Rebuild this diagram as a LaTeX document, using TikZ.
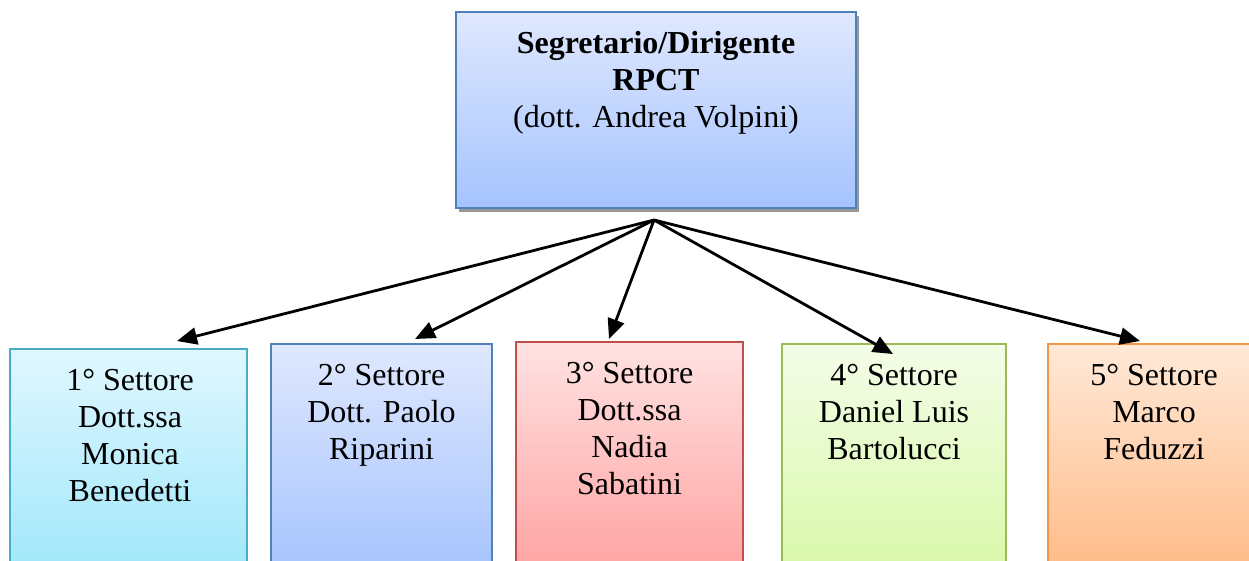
\documentclass[tikz,border=0pt]{standalone}
\usepackage{fontspec}
\setmainfont{Liberation Serif}
\usetikzlibrary{arrows.meta,shadows}
\definecolor{bBlue}{HTML}{4F81BD}
\definecolor{bTeal}{HTML}{4BACC6}
\definecolor{bRed}{HTML}{C0504D}
\definecolor{bGreen}{HTML}{9BBB59}
\definecolor{bOrange}{HTML}{F79646}
\definecolor{fBlueT}{HTML}{DFE8FE}
\definecolor{fBlueB}{HTML}{A5C3FE}
\definecolor{fTealT}{HTML}{E0F7FF}
\definecolor{fTealB}{HTML}{9FE7FA}
\definecolor{fRedT}{HTML}{FFE2E2}
\definecolor{fRedB}{HTML}{FFA2A2}
\definecolor{fGreenT}{HTML}{F4FDE8}
\definecolor{fGreenB}{HTML}{D8F8A8}
\definecolor{fOrangeT}{HTML}{FFE9D8}
\definecolor{fOrangeB}{HTML}{FFBA86}
\begin{document}
\begin{tikzpicture}[x=1pt,y=-1pt,
  box/.style={rectangle, inner sep=0pt, outer sep=0pt, line width=2pt},
  lbl/.style={anchor=north, inner sep=0pt, align=center, font=\fontsize{32}{37}\selectfont},
  arr/.style={line width=2.8pt, -{Triangle[length=20pt,width=17pt]}}]
\useasboundingbox (0,0) rectangle (1249,561);
\fill[white] (0,0) rectangle (1249,561);
% top box
\node[box, draw=bBlue, top color=fBlueT, bottom color=fBlueB,
      minimum width=400pt, minimum height=196pt,
      drop shadow={shadow xshift=2.5pt, shadow yshift=-4.5pt, fill=black!40, opacity=1}]
      (top) at (656,110) {};
\node[lbl] (t0) at (656,27) {\strut\textbf{Segretario/Dirigente}\\\textbf{RPCT}\\(dott. Andrea Volpini)};
% sector boxes
\node[box, draw=bTeal, top color=fTealT, bottom color=fTealB,
      minimum width=237pt, minimum height=226pt] (s1) at (128.5,462) {};
\node[box, draw=bBlue, top color=fBlueT, bottom color=fBlueB,
      minimum width=221pt, minimum height=231pt] (s2) at (381.5,459.5) {};
\node[box, draw=bRed, top color=fRedT, bottom color=fRedB,
      minimum width=227pt, minimum height=233pt] (s3) at (629.5,458.5) {};
\node[box, draw=bGreen, top color=fGreenT, bottom color=fGreenB,
      minimum width=224pt, minimum height=231pt] (s4) at (894,459.5) {};
\node[box, draw=bOrange, top color=fOrangeT, bottom color=fOrangeB,
      minimum width=212pt, minimum height=231pt] (s5) at (1154,459.5) {};
\node[lbl] (t1) at (130,364) {\strut 1° Settore\\Dott.ssa\\Monica\\Benedetti};
\node[lbl] (t2) at (381.5,359) {\strut 2° Settore\\Dott. Paolo\\Riparini};
\node[lbl] (t3) at (629.5,357) {\strut 3° Settore\\Dott.ssa\\Nadia\\Sabatini};
\node[lbl] (t4) at (894,359) {\strut 4° Settore\\Daniel Luis\\Bartolucci};
\node[lbl] (t5) at (1154,359) {\strut 5° Settore\\Marco\\Feduzzi};
% connectors
\coordinate (hub) at (654,220);
\coordinate (e1) at (177,341);
\coordinate (e2) at (415,339);
\coordinate (e3) at (609,339);
\coordinate (e4) at (893,354);
\coordinate (e5) at (1140,341);
\foreach \e in {e1,e2,e3,e4,e5} \draw[arr] (hub) -- (\e);
\end{tikzpicture}
\end{document}
